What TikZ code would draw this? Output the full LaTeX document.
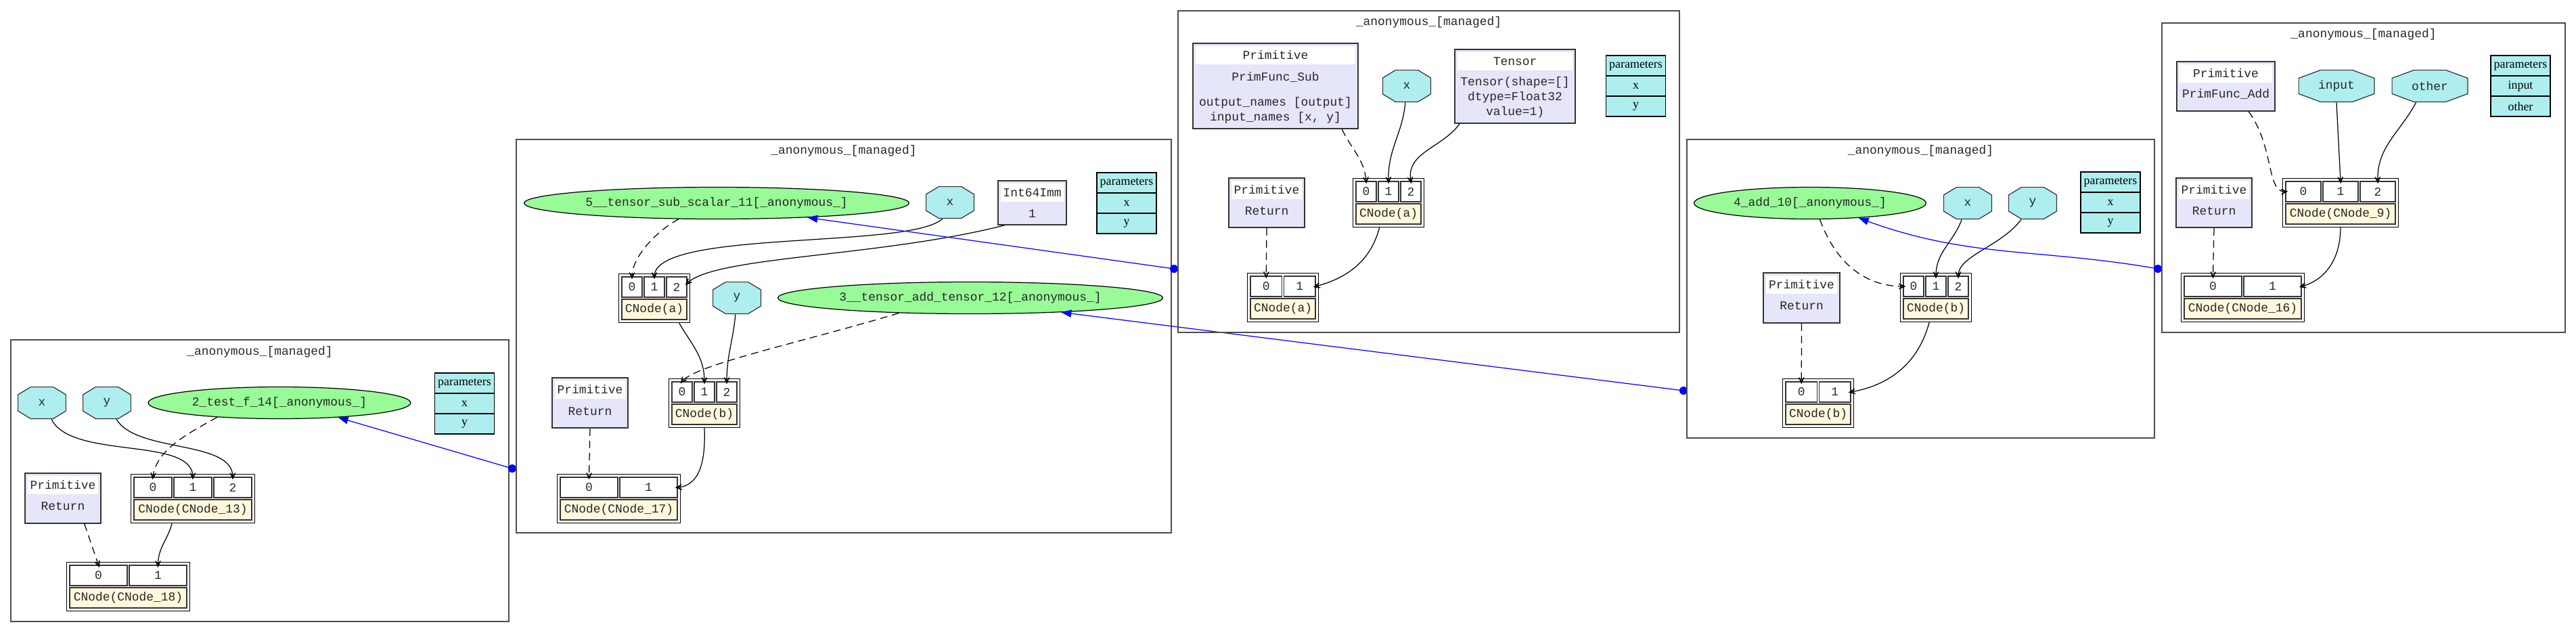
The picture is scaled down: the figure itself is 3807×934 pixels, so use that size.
\documentclass[tikz,border=0pt]{standalone}
\usepackage{fontspec}
\setmainfont{Liberation Serif}
\newfontfamily\crfont{Liberation Mono}
\newcommand{\crsize}{\crfont\fontsize{10.2}{12.5}\selectfont}
\usetikzlibrary{shapes.geometric,arrows.meta,fit,positioning}
\definecolor{paleturq}{HTML}{AFEEEE}
\definecolor{palegrn}{HTML}{98FB98}
\definecolor{lav}{HTML}{E6E6FA}
\definecolor{corn}{HTML}{FFF8DC}
\tikzset{
  cluster/.style={draw=black!70, line width=0.9pt},
  ctitle/.style={font=\crsize, text=black!85, inner sep=0pt},
  octa/.style={rectangle, minimum width=1.44cm, minimum height=0.96cm, inner sep=0pt,
    font=\crsize, text=black!85,
    path picture={\filldraw[fill=paleturq, draw=black!80, line width=0.7pt]
      (path picture bounding box.center) +(-16.5,-23.5) -- +(16.5,-23.5) -- +(35.5,-12)
      -- +(35.5,12) -- +(16.5,23.5) -- +(-16.5,23.5) -- +(-35.5,12) -- +(-35.5,-12) -- cycle;}},
  octw/.style={rectangle, minimum width=2.26cm, minimum height=0.96cm, inner sep=0pt,
    font=\crsize, text=black!85,
    path picture={\filldraw[fill=paleturq, draw=black!80, line width=0.7pt]
      (path picture bounding box.center) +(-23.5,-23.5) -- +(23.5,-23.5) -- +(56,-11.5)
      -- +(56,11.5) -- +(23.5,23.5) -- +(-23.5,23.5) -- +(-56,11.5) -- +(-56,-11.5) -- cycle;}},
  graphnode/.style={ellipse, draw=black, fill=palegrn, minimum height=0.94cm, inner sep=0pt,
    line width=0.7pt, font=\crsize, text=black!85},
  prim/.style={draw=black!80, fill=lav, line width=0.9pt, inner sep=0pt},
  band/.style={fill=white, minimum height=0.54cm, inner sep=0pt, font=\crsize, text=black!85},
  ptxt/.style={inner sep=0pt, font=\crsize, text=black!85, align=center},
  ptab/.style={draw=black, fill=paleturq, minimum width=1.76cm, minimum height=0.6cm, inner sep=0pt,
    line width=0.7pt, font=\fontsize{10.2}{12}\selectfont},
  cell/.style={draw=black!80, fill=white, minimum height=0.6cm, inner sep=0pt, line width=0.7pt,
    font=\crsize, text=black!85},
  clabel/.style={cell, fill=corn},
  rec/.style={draw=black, line width=0.7pt, inner sep=0.08cm},
  flow/.style={-{Stealth[length=0.36cm,width=0.32cm,inset=0.26cm]}, line width=0.7pt, shorten >=-0.08cm},
  dep/.style={flow, dash pattern=on 0.22cm off 0.14cm},
  link/.style={draw=blue, line width=0.7pt, -{Triangle[length=0.3cm,width=0.22cm]}},
  dot/.style={circle, fill=blue, minimum size=0.24cm, inner sep=0pt}
}
\begin{document}
\begin{tikzpicture}[x=0.02cm,y=-0.02cm]
\useasboundingbox (0,0) rectangle (3807,934);

% graph 2_test_f_14
\draw[cluster] (16,502) rectangle (752,918);
\node[ctitle] (tA) at (384,520) {\_anonymous\_[managed]};
\node[octa] (xA) at (62,595) {x};
\node[octa] (yA) at (158,595) {y};
\node[graphnode, minimum width=7.76cm] (gA) at (413,595) {2\_test\_f\_14[\_anonymous\_]};
\node[ptab] (pA0) at (686.5,566) {parameters};
\node[ptab] (pA1) at (686.5,596) {x};
\node[ptab] (pA2) at (686.5,626) {y};
\node[prim, minimum width=2.24cm, minimum height=1.48cm] (rA) at (93,736) {};
\node[band, minimum width=2.08cm] (rAh) at (93,716.5) {Primitive};
\node[ptxt] (rAt) at (93,748) {Return};
\node[cell, minimum width=1.12cm] (c13a) at (226,720) {0};
\node[cell, minimum width=1.12cm] (c13b) at (285,720) {1};
\node[cell, minimum width=1.12cm] (c13c) at (344,720) {2};
\node[clabel, minimum width=3.48cm] (c13l) at (285,753) {CNode(CNode\_13)};
\node[rec, fit=(c13a)(c13c)(c13l)] (n13) {};
\node[cell, minimum width=1.7cm] (c18a) at (145.5,850) {0};
\node[cell, minimum width=1.7cm] (c18b) at (233.5,850) {1};
\node[clabel, minimum width=3.46cm] (c18l) at (189.5,883) {CNode(CNode\_18)};
\node[rec, fit=(c18a)(c18b)(c18l)] (n18) {};
\draw[flow] (xA.-60) .. controls +(30,60) and +(0,-60) .. (c13b.north);
\draw[flow] (yA.-60) .. controls +(30,50) and +(0,-55) .. (c13c.north);
\draw[dep] (gA.193) .. controls +(-45,25) and +(5,-40) .. (c13a.north);
\draw[dep] (rA.-50) -- (c18a.north);
\draw[flow] (n13.230) to[out=-105,in=90] (c18b.north);
\node[dot] (dA) at (757,692) {};
\draw[link] (dA.center) -- (gA.-14);

% graph tensor_sub / tensor_add
\draw[cluster] (763,206) rectangle (1731,787);
\node[ctitle] (tB) at (1247,223) {\_anonymous\_[managed]};
\node[graphnode, minimum width=11.38cm] (gB5) at (1059,300) {5\_\_tensor\_sub\_scalar\_11[\_anonymous\_]};
\node[octa] (xB) at (1404,299) {x};
\node[prim, minimum width=2.02cm, minimum height=1.3cm] (iB) at (1525.5,299.5) {};
\node[band, minimum width=1.86cm] (iBh) at (1525.5,284.5) {Int64Imm};
\node[ptxt] (iBt) at (1525.5,316) {1};
\node[ptab] (pB0) at (1665,270) {parameters};
\node[ptab] (pB1) at (1665,300) {x};
\node[ptab] (pB2) at (1665,330) {y};
\node[cell, minimum width=0.6cm] (cBaa) at (934,424) {0};
\node[cell, minimum width=0.6cm] (cBab) at (967,424) {1};
\node[cell, minimum width=0.6cm] (cBac) at (1000,424) {2};
\node[clabel, minimum width=1.92cm] (cBal) at (967,457) {CNode(a)};
\node[rec, fit=(cBaa)(cBac)(cBal)] (nBa) {};
\node[octa] (yB) at (1089,440) {y};
\node[graphnode, minimum width=11.38cm] (gB3) at (1434,440) {3\_\_tensor\_add\_tensor\_12[\_anonymous\_]};
\node[cell, minimum width=0.6cm] (cBba) at (1008,579) {0};
\node[cell, minimum width=0.6cm] (cBbb) at (1041,579) {1};
\node[cell, minimum width=0.6cm] (cBbc) at (1074,579) {2};
\node[clabel, minimum width=1.92cm] (cBbl) at (1041,612) {CNode(b)};
\node[rec, fit=(cBba)(cBbc)(cBbl)] (nBb) {};
\node[prim, minimum width=2.24cm, minimum height=1.48cm] (rB) at (872,595) {};
\node[band, minimum width=2.08cm] (rBh) at (872,575.5) {Primitive};
\node[ptxt] (rBt) at (872,607.5) {Return};
\node[cell, minimum width=1.7cm] (c17a) at (870.5,720) {0};
\node[cell, minimum width=1.7cm] (c17b) at (958.5,720) {1};
\node[clabel, minimum width=3.46cm] (c17l) at (914.5,753) {CNode(CNode\_17)};
\node[rec, fit=(c17a)(c17b)(c17l)] (n17) {};
\draw[dep] (gB5.203) .. controls +(-30,15) and +(0,-30) .. (cBaa.north);
\draw[flow] (xB.-115) .. controls +(-50,45) and +(0,-70) .. (cBab.north);
\draw[flow] (iB.-141) .. controls +(-185,47) and +(40,-40) .. (cBac.20);
\draw[dep] (gB3.192) .. controls +(-150,45) and +(20,-25) .. (cBba.north);
\draw[flow] (nBa.-45) to[out=-60,in=90] (cBbb.north);
\draw[flow] (yB.-95) to[out=-95,in=90] (cBbc.north);
\draw[dep] (rB.south) -- (c17a.north);
\draw[flow] (nBb.-90) to[out=-88,in=5] (c17b.east);
\node[dot] (dC) at (1735,397) {};
\draw[link] (dC.center) -- (gB5.-9);
\node[dot] (dD) at (2488,577) {};
\draw[link] (dD.center) -- (gB3.-9);

% graph with PrimFunc_Sub
\draw[cluster] (1741,16) rectangle (2482,491);
\node[ctitle] (tC) at (2111.5,33) {\_anonymous\_[managed]};
\node[prim, minimum width=4.88cm, minimum height=2.52cm] (sC) at (1885,127) {};
\node[band, minimum width=4.72cm] (sCh) at (1885,81.5) {Primitive};
\node[ptxt] (sCt) at (1885,114) {PrimFunc\_Sub};
\node[ptxt] (sCn) at (1885,163) {output\_names [output]\\input\_names [x, y]};
\node[octa] (xC) at (2079,127) {x};
\node[prim, minimum width=3.56cm, minimum height=2.18cm] (tsC) at (2239,127.5) {};
\node[band, minimum width=3.4cm] (tsCh) at (2239,90.5) {Tensor};
\node[ptxt] (tsCt) at (2239,144) {Tensor(shape=[]\\dtype=Float32\\value=1)};
\node[ptab] (pC0) at (2417.5,97) {parameters};
\node[ptab] (pC1) at (2417.5,127) {x};
\node[ptab] (pC2) at (2417.5,157) {y};
\node[cell, minimum width=0.6cm] (cCaa) at (2019,283) {0};
\node[cell, minimum width=0.6cm] (cCab) at (2052,283) {1};
\node[cell, minimum width=0.6cm] (cCac) at (2085,283) {2};
\node[clabel, minimum width=1.92cm] (cCal) at (2052,316) {CNode(a)};
\node[rec, fit=(cCaa)(cCac)(cCal)] (nCa) {};
\node[prim, minimum width=2.24cm, minimum height=1.46cm] (rC) at (1872,299.5) {};
\node[band, minimum width=2.08cm] (rCh) at (1872,280.5) {Primitive};
\node[ptxt] (rCt) at (1872,312) {Return};
\node[cell, minimum width=0.93cm] (cCla) at (1871.25,423) {0};
\node[cell, minimum width=0.93cm] (cClb) at (1920.75,423) {1};
\node[clabel, minimum width=1.92cm] (cCll) at (1896,456) {CNode(a)};
\node[rec, fit=(cCla)(cClb)(cCll)] (nCl) {};
\draw[dep] (sC.-33) to[out=-65,in=95] (cCaa.north);
\draw[flow] (xC.-95) to[out=-95,in=92] (cCab.north);
\draw[flow] (tsC.214) to[out=-125,in=100] (cCac.north);
\draw[dep] (rC.south) -- (cCla.north);
\draw[flow] (nCa.-110) to[out=-105,in=15] (cClb.east);

% graph 4_add_10
\draw[cluster] (2493,206) rectangle (3184,647);
\node[ctitle] (tD) at (2838.5,223) {\_anonymous\_[managed]};
\node[graphnode, minimum width=6.86cm] (gD) at (2675,300) {4\_add\_10[\_anonymous\_]};
\node[octa] (xD) at (2908,300) {x};
\node[octa] (yD) at (3004,300) {y};
\node[ptab] (pD0) at (3119,269) {parameters};
\node[ptab] (pD1) at (3119,299) {x};
\node[ptab] (pD2) at (3119,329) {y};
\node[cell, minimum width=0.6cm] (cDua) at (2828,423) {0};
\node[cell, minimum width=0.6cm] (cDub) at (2861,423) {1};
\node[cell, minimum width=0.6cm] (cDuc) at (2894,423) {2};
\node[clabel, minimum width=1.92cm] (cDul) at (2861,456) {CNode(b)};
\node[rec, fit=(cDua)(cDuc)(cDul)] (nDu) {};
\node[prim, minimum width=2.26cm, minimum height=1.48cm] (rD) at (2662.5,440) {};
\node[band, minimum width=2.1cm] (rDh) at (2662.5,420.5) {Primitive};
\node[ptxt] (rDt) at (2662.5,452) {Return};
\node[cell, minimum width=0.93cm] (cDla) at (2662.25,579) {0};
\node[cell, minimum width=0.93cm] (cDlb) at (2711.75,579) {1};
\node[clabel, minimum width=1.92cm] (cDll) at (2687,612) {CNode(b)};
\node[rec, fit=(cDla)(cDlb)(cDll)] (nDl) {};
\draw[dep] (gD.-59) to[out=-70,in=180] (cDua.west);
\draw[flow] (xD.-110) to[out=-110,in=90] (cDub.north);
\draw[flow] (yD.-125) .. controls +(-30,40) and +(0,-30) .. (cDuc.north);
\draw[dep] (rD.south) -- (cDla.north);
\draw[flow] (nDu.-105) to[out=-105,in=10] (cDlb.east);
\node[dot] (dE) at (3189,397) {};
\draw[link] (dE.center) to[out=170,in=-20] (gD.-17);

% graph with PrimFunc_Add
\draw[cluster] (3195,34) rectangle (3791,491);
\node[ctitle] (tE) at (3493,51) {\_anonymous\_[managed]};
\node[prim, minimum width=2.9cm, minimum height=1.46cm] (aE) at (3289.5,127.5) {};
\node[band, minimum width=2.74cm] (aEh) at (3289.5,108.5) {Primitive};
\node[ptxt] (aEt) at (3289.5,139) {PrimFunc\_Add};
\node[octw] (inE) at (3453,127) {input};
\node[octw] (otE) at (3591,127) {other};
\node[ptab] (pE0) at (3725,97) {parameters};
\node[ptab] (pE1) at (3725,127) {input};
\node[ptab] (pE2) at (3725,157) {other};
\node[cell, minimum width=1.04cm] (cE9a) at (3404,283) {0};
\node[cell, minimum width=1.04cm] (cE9b) at (3459,283) {1};
\node[cell, minimum width=1.04cm] (cE9c) at (3514,283) {2};
\node[clabel, minimum width=3.24cm] (cE9l) at (3459,316) {CNode(CNode\_9)};
\node[rec, fit=(cE9a)(cE9c)(cE9l)] (n9) {};
\node[prim, minimum width=2.24cm, minimum height=1.46cm] (rE) at (3272,299.5) {};
\node[band, minimum width=2.08cm] (rEh) at (3272,280.5) {Primitive};
\node[ptxt] (rEt) at (3272,312) {Return};
\node[cell, minimum width=1.7cm] (cE16a) at (3270.5,423) {0};
\node[cell, minimum width=1.7cm] (cE16b) at (3358.5,423) {1};
\node[clabel, minimum width=3.46cm] (cE16l) at (3314.5,456) {CNode(CNode\_16)};
\node[rec, fit=(cE16a)(cE16b)(cE16l)] (n16) {};
\draw[dep] (aE.-48) .. controls +(38,51) and +(-28,2) .. (cE9a.west);
\draw[flow] (inE.-90) -- (cE9b.north);
\draw[flow] (otE.-130) to[out=-118,in=92] (cE9c.north);
\draw[dep] (rE.south) -- (cE16a.north);
\draw[flow] (n9.south) to[out=-90,in=15] (cE16b.east);
\end{tikzpicture}
\end{document}
